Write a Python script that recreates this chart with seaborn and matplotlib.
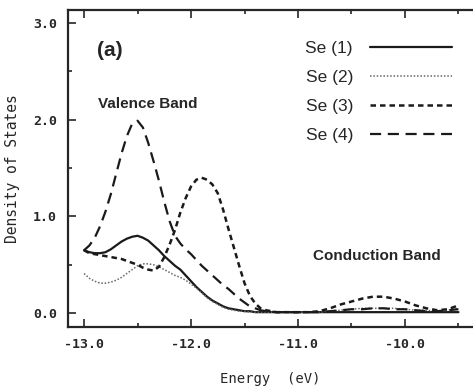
import matplotlib
matplotlib.use("Agg")
import matplotlib.pyplot as plt
from matplotlib.ticker import MultipleLocator, FormatStrFormatter
import pandas as pd
import seaborn as sns

# energy grid (eV): finer in the valence band, coarser in the conduction band
energy = [-13.00, -12.95, -12.90, -12.85, -12.80, -12.75, -12.70, -12.65, -12.60,
          -12.55, -12.50, -12.45, -12.40, -12.35, -12.30, -12.25, -12.20, -12.15,
          -12.10, -12.05, -12.00, -11.95, -11.90, -11.85, -11.80, -11.75, -11.70,
          -11.65, -11.60, -11.55, -11.50, -11.45, -11.40, -11.35, -11.30,
          -11.2, -11.1, -11.0, -10.9, -10.8, -10.7, -10.6, -10.5, -10.4,
          -10.3, -10.2, -10.1, -10.0, -9.9, -9.8, -9.7, -9.6, -9.5]

# density of states
se1 = [0.65, 0.63, 0.62, 0.62, 0.63, 0.66, 0.70, 0.74, 0.77,
       0.79, 0.80, 0.78, 0.75, 0.70, 0.65, 0.59, 0.54, 0.49,
       0.45, 0.39, 0.33, 0.27, 0.22, 0.17, 0.13, 0.10, 0.07,
       0.05, 0.04, 0.03, 0.02, 0.02, 0.01, 0.01, 0.01,
       0.01, 0.01, 0.01, 0.01, 0.01, 0.01, 0.01, 0.01, 0.01,
       0.01, 0.01, 0.01, 0.01, 0.01, 0.01, 0.01, 0.01, 0.01]

se2 = [0.41, 0.36, 0.33, 0.31, 0.31, 0.32, 0.34, 0.37, 0.41,
       0.45, 0.49, 0.51, 0.51, 0.50, 0.48, 0.45, 0.42, 0.39,
       0.37, 0.34, 0.30, 0.26, 0.21, 0.16, 0.12, 0.09, 0.06,
       0.04, 0.03, 0.02, 0.02, 0.01, 0.01, 0.01, 0.01,
       0.01, 0.01, 0.01, 0.01, 0.01, 0.02, 0.03, 0.04, 0.05,
       0.05, 0.05, 0.05, 0.04, 0.03, 0.03, 0.02, 0.03, 0.05]

se3 = [0.65, 0.62, 0.61, 0.60, 0.59, 0.58, 0.57, 0.56, 0.54,
       0.52, 0.50, 0.47, 0.45, 0.44, 0.48, 0.58, 0.71, 0.86,
       1.04, 1.19, 1.31, 1.38, 1.40, 1.38, 1.33, 1.24, 1.07,
       0.87, 0.68, 0.49, 0.31, 0.18, 0.10, 0.05, 0.03,
       0.01, 0.01, 0.01, 0.01, 0.02, 0.05, 0.09, 0.12, 0.15,
       0.17, 0.17, 0.15, 0.12, 0.08, 0.05, 0.03, 0.04, 0.08]

se4 = [0.65, 0.70, 0.78, 0.90, 1.05, 1.23, 1.44, 1.65, 1.83,
       1.96, 1.99, 1.92, 1.76, 1.57, 1.37, 1.15, 0.95, 0.80,
       0.72, 0.66, 0.61, 0.55, 0.49, 0.44, 0.39, 0.34, 0.29,
       0.25, 0.20, 0.15, 0.11, 0.07, 0.05, 0.03, 0.02,
       0.01, 0.01, 0.01, 0.01, 0.01, 0.02, 0.03, 0.04, 0.04,
       0.05, 0.05, 0.04, 0.04, 0.03, 0.02, 0.02, 0.03, 0.04]

labels = ["Se (1)", "Se (2)", "Se (3)", "Se (4)"]
series = [se1, se2, se3, se4]

sns.set_style("ticks")
plt.rcParams["font.family"] = ["Liberation Sans", "DejaVu Sans"]

rows = []
for name, vals in zip(labels, series):
    for e, v in zip(energy, vals):
        rows.append({"Energy": e, "DOS": v, "Site": name})
df = pd.DataFrame(rows)

styles = {
    "Se (1)": dict(color="#1a1a1a", lw=1.6, linestyle="-"),
    "Se (2)": dict(color="#666666", lw=1.1, linestyle=(0, (1, 1.2))),
    "Se (3)": dict(color="#1a1a1a", lw=1.8, linestyle=(0, (2.2, 1.6))),
    "Se (4)": dict(color="#1a1a1a", lw=1.6, linestyle=(0, (5, 3))),
}

fig = plt.figure(figsize=(4.73, 3.89), dpi=100)
ax = fig.add_axes([0.1438, 0.159, 0.8562, 0.815])

for name in labels:
    sub = df[df["Site"] == name]
    sns.lineplot(data=sub, x="Energy", y="DOS", ax=ax, label=name,
                 **styles[name])

ax.set_xlim(-13.15, -9.364)
ax.set_ylim(-0.145, 3.134)

ax.xaxis.set_major_locator(MultipleLocator(1.0))
ax.xaxis.set_minor_locator(MultipleLocator(0.5))
ax.yaxis.set_major_locator(MultipleLocator(1.0))
ax.yaxis.set_minor_locator(MultipleLocator(0.5))
ax.xaxis.set_major_formatter(FormatStrFormatter("%.1f"))
ax.yaxis.set_major_formatter(FormatStrFormatter("%.1f"))
for t in ax.get_xticklabels() + ax.get_yticklabels():
    t.set_fontfamily("DejaVu Sans Mono")
    t.set_fontweight("bold")
    t.set_fontsize(9.5)

ax.tick_params(which="both", direction="in", top=True, right=False, width=1.2)
ax.tick_params(which="major", length=6, pad=8)
ax.tick_params(which="minor", length=3)
for side in ["left", "bottom", "top"]:
    ax.spines[side].set_linewidth(1.6)
ax.spines["right"].set_visible(False)

ax.set_xlabel("Energy  (eV)", family="DejaVu Sans Mono", fontsize=10, labelpad=15)
ax.set_ylabel("Density of States", family="DejaVu Sans Mono", fontsize=10.5, labelpad=9)

ax.text(-12.76, 2.72, "(a)", fontsize=15, weight="bold", ha="center", va="center")
ax.text(-12.40, 2.16, "Valence Band", fontsize=11, weight="bold", ha="center", va="center")
ax.text(-10.26, 0.59, "Conduction Band", fontsize=11, weight="bold", ha="center", va="center")

ax.legend(loc="upper right", bbox_to_anchor=(0.948, 0.902), frameon=False,
          markerfirst=False, fontsize=12.5, handlelength=4.7,
          handletextpad=1.0, labelspacing=0.8, borderpad=0, borderaxespad=0)

fig.savefig("out.png", dpi=100)
